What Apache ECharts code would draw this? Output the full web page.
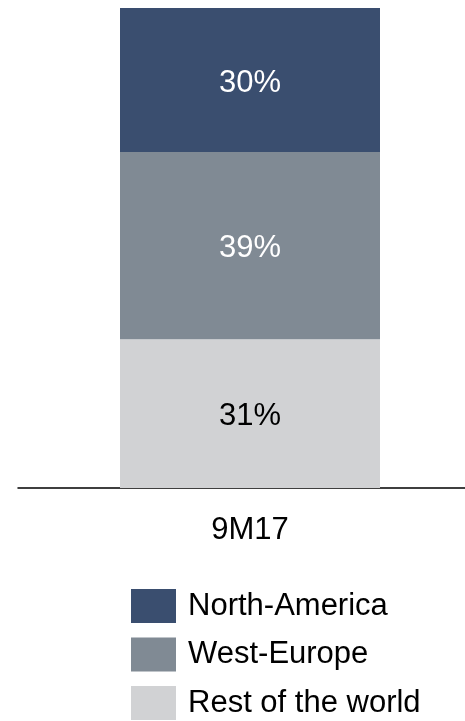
<!DOCTYPE html>
<html><head><meta charset="utf-8">
<script src="https://cdn.jsdelivr.net/npm/echarts@6/dist/echarts.min.js"></script>
<style>html,body{margin:0;padding:0;background:#fff}#c{width:465px;height:721px}</style>
</head><body><div id="c"></div>
<script>
const categories = ['9M17'];
const seriesNames = ['Rest of the world', 'West-Europe', 'North-America'];
const restOfWorld = [31];
const westEurope = [39];
const northAmerica = [30];
const legendOrder = ['North-America', 'West-Europe', 'Rest of the world'];

const FONT = "'Liberation Sans', Arial, sans-serif";
const colors = {'North-America':'#3A4E6F','West-Europe':'#808A94','Rest of the world':'#D1D2D4'};
const labelColors = {'North-America':'#ffffff','West-Europe':'#ffffff','Rest of the world':'#000000'};
const dataMap = {'Rest of the world':restOfWorld,'West-Europe':westEurope,'North-America':northAmerica};

const chart = echarts.init(document.getElementById('c'));
chart.setOption({
  animation:false,
  legend:{
    orient:'vertical', left:131, top:589, height:200, width:330, padding:0,
    itemWidth:45, itemHeight:34, itemGap:14.5,
    icon:'rect', data:legendOrder, selectedMode:false,
    textStyle:{fontFamily:FONT, fontSize:31, color:'#000', padding:[0,0,0,7]}
  },
  grid:[
    {left:35, right:0, top:8, bottom:233},
    {left:18, right:0, top:8, bottom:233}
  ],
  xAxis:[
    {type:'category', gridIndex:0, data:categories, axisLine:{show:false}, axisTick:{show:false},
     axisLabel:{fontFamily:FONT, fontSize:31, color:'#000', margin:27}},
    {type:'category', gridIndex:1, data:categories, axisLine:{show:true, lineStyle:{color:'#000', width:1.5}},
     axisTick:{show:false}, axisLabel:{show:false}}
  ],
  yAxis:[
    {type:'value', gridIndex:0, min:0, max:100, show:false},
    {type:'value', gridIndex:1, min:0, max:100, show:false}
  ],
  series: seriesNames.map(n => ({
    name:n, type:'bar', stack:'total', barWidth:260, xAxisIndex:0, yAxisIndex:0,
    data:dataMap[n], itemStyle:{color:colors[n]},
    label:{show:true, position:'inside', formatter:'{c}%', fontFamily:FONT, fontSize:31, color:labelColors[n], offset:[0,3]}
  }))
});
</script></body></html>
